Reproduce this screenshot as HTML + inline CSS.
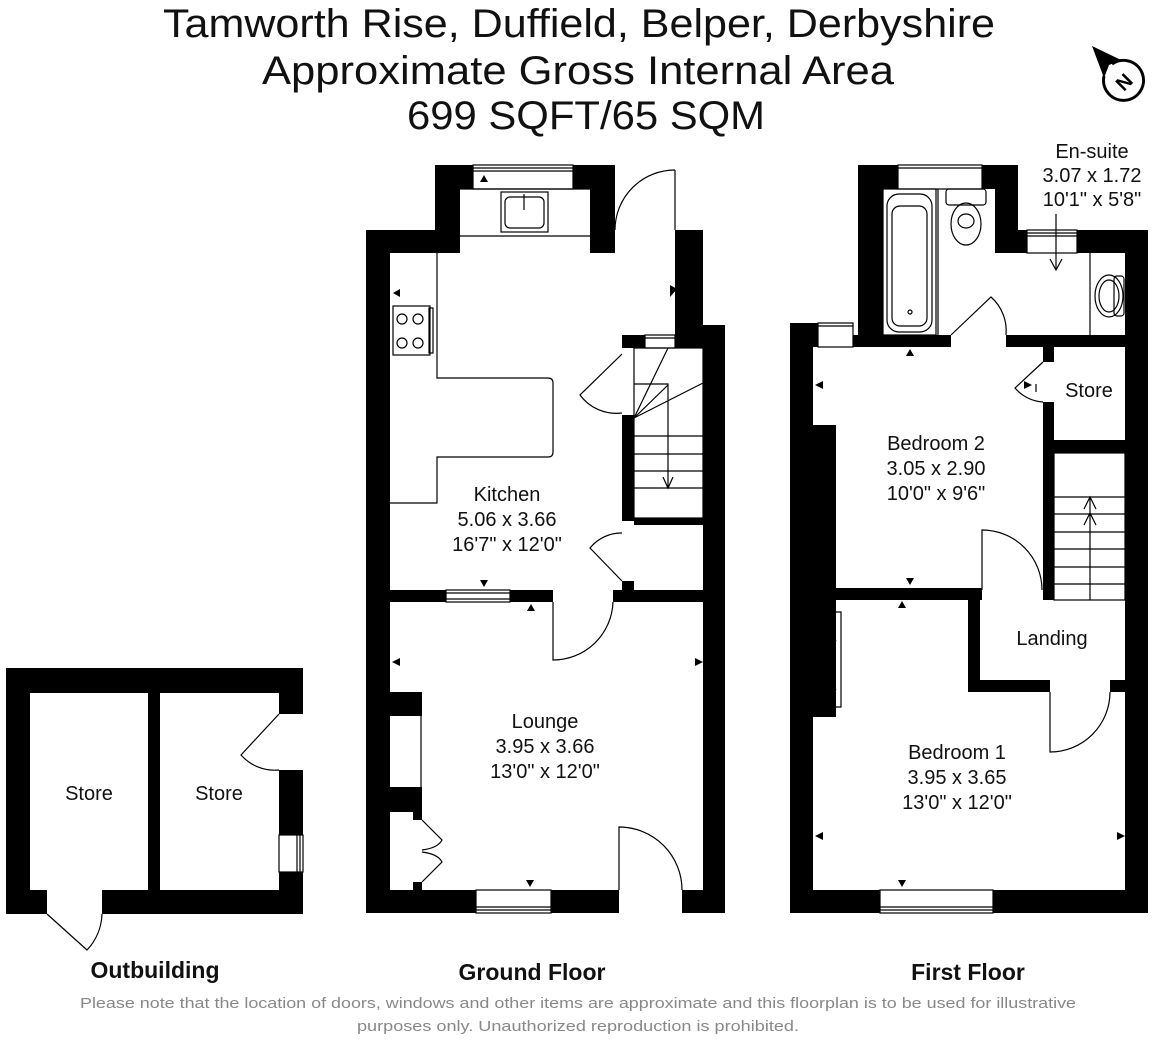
<!DOCTYPE html>
<html><head><meta charset="utf-8"><style>
html,body{margin:0;padding:0;background:#fff;}
svg{display:block;}
text{font-family:"Liberation Sans",sans-serif;}
</style></head><body>
<svg width="1152" height="1040" viewBox="0 0 1152 1040" xmlns="http://www.w3.org/2000/svg">
<rect width="1152" height="1040" fill="#fff"/>
<!-- Title -->
<g fill="#111" font-size="40" text-anchor="middle">
<text x="579" y="37" textLength="832" lengthAdjust="spacingAndGlyphs">Tamworth Rise, Duffield, Belper, Derbyshire</text>
<text x="578" y="84" textLength="632" lengthAdjust="spacingAndGlyphs">Approximate Gross Internal Area</text>
<text x="586" y="129" textLength="358" lengthAdjust="spacingAndGlyphs">699 SQFT/65 SQM</text>
</g>
<!-- compass -->
<g>
<path d="M1112,64 A20,20 0 1,1 1104,76" fill="none" stroke="#000" stroke-width="3"/>
<polygon points="1092,46 1121,60 1109,65 1104,78" fill="#000"/>
<text x="1124" y="89" font-size="20" font-weight="bold" text-anchor="middle" transform="rotate(-45 1124 82)" fill="#000">N</text>
</g>

<g fill="#000">
<!-- ===== Ground floor ===== -->
<rect x="366" y="230" width="24" height="683"/>
<rect x="366" y="230" width="94" height="23"/>
<rect x="435" y="165" width="25" height="88"/>
<rect x="435" y="165" width="38" height="24"/>
<rect x="573" y="165" width="42" height="24"/>
<rect x="590" y="165" width="25" height="88"/>
<rect x="675" y="230" width="28" height="105"/>
<rect x="703" y="325" width="22" height="588"/>
<rect x="622" y="335" width="23" height="13"/>
<rect x="675" y="335" width="28" height="13"/>
<rect x="622" y="415" width="12" height="106"/>
<rect x="634" y="518" width="69" height="7"/>
<rect x="622" y="581" width="12" height="10"/>
<rect x="390" y="590" width="56" height="12"/>
<rect x="510" y="590" width="43" height="12"/>
<rect x="613" y="590" width="90" height="12"/>
<rect x="366" y="890" width="110" height="23"/>
<rect x="551" y="890" width="68" height="23"/>
<rect x="682" y="890" width="43" height="23"/>
<rect x="390" y="692" width="32" height="24"/>
<rect x="390" y="787" width="32" height="25"/>
<rect x="413" y="812" width="9" height="8"/>
<rect x="413" y="882" width="9" height="8"/>

<!-- ===== First floor ===== -->
<rect x="858" y="165" width="40" height="24"/>
<rect x="858" y="165" width="25" height="182"/>
<rect x="982" y="165" width="36" height="24"/>
<rect x="995" y="165" width="23" height="88"/>
<rect x="995" y="230" width="32" height="23"/>
<rect x="1077" y="230" width="71" height="23"/>
<rect x="1125" y="230" width="23" height="683"/>
<rect x="790" y="323" width="23" height="590"/>
<rect x="790" y="323" width="28" height="24"/>
<rect x="853" y="335" width="98" height="12"/>
<rect x="1006" y="335" width="119" height="12"/>
<rect x="1043" y="347" width="11" height="15"/>
<rect x="1043" y="402" width="11" height="198"/>
<rect x="1043" y="440" width="82" height="13"/>
<rect x="813" y="425" width="23" height="175"/>
<rect x="836" y="588" width="146" height="12"/>
<rect x="968" y="590" width="12" height="102"/>
<rect x="968" y="680" width="82" height="12"/>
<rect x="1110" y="680" width="15" height="12"/>
<rect x="813" y="600" width="23" height="117"/>
<rect x="790" y="890" width="90" height="23"/>
<rect x="993" y="890" width="155" height="23"/>

<!-- ===== Outbuilding ===== -->
<rect x="6" y="668" width="297" height="25"/>
<rect x="6" y="668" width="24" height="246"/>
<rect x="279" y="668" width="24" height="46"/>
<rect x="279" y="770" width="24" height="65"/>
<rect x="279" y="872" width="24" height="42"/>
<rect x="6" y="890" width="41" height="24"/>
<rect x="102" y="890" width="201" height="24"/>
<rect x="148" y="693" width="12" height="197"/>
</g>

<!-- thin lines -->
<g fill="none" stroke="#000" stroke-width="1.2">
<rect x="473" y="165" width="100" height="24"/>
<line x1="473" y1="168" x2="573" y2="168"/><line x1="473" y1="171" x2="573" y2="171"/>
<rect x="645" y="335" width="30" height="13"/><line x1="645" y1="338" x2="675" y2="338"/>
<rect x="446" y="590" width="64" height="12"/><line x1="446" y1="593" x2="510" y2="593"/><line x1="446" y1="599" x2="510" y2="599"/>
<rect x="476" y="890" width="75" height="23"/><line x1="476" y1="907" x2="551" y2="907"/><line x1="476" y1="910" x2="551" y2="910"/>
<line x1="460" y1="189" x2="590" y2="189"/>
<line x1="460" y1="236" x2="590" y2="236"/>
<path d="M437,253 V378 H548 Q553,378 553,383 V452 Q553,457 548,457 H437 V503 H390"/>
<rect x="501" y="192" width="47" height="40"/>
<rect x="505" y="197" width="39" height="31" rx="5"/>
<line x1="524" y1="194" x2="524" y2="210"/>
<rect x="393" y="306" width="37" height="49"/>
<rect x="429" y="308" width="4" height="45"/>
<circle cx="402" cy="319" r="5"/><circle cx="418" cy="319" r="5"/>
<circle cx="402" cy="343" r="5"/><circle cx="418" cy="343" r="5"/>
<line x1="675" y1="170" x2="675" y2="230"/>
<path d="M675,170 A60,60 0 0,0 615,230"/>
<rect x="634" y="348" width="69" height="170"/>
<line x1="634" y1="418" x2="668" y2="385"/>
<line x1="634" y1="418" x2="703" y2="383"/>
<line x1="668" y1="348" x2="634" y2="418"/>
<path d="M634,384 H668 V487"/>
<line x1="634" y1="436" x2="703" y2="436"/><line x1="634" y1="454" x2="703" y2="454"/><line x1="634" y1="471" x2="703" y2="471"/><line x1="634" y1="488" x2="703" y2="488"/>
<path d="M663,477 L668,488 L673,477"/>
<path d="M622,354 L580,395 A45,45 0 0,0 622,413"/>
<path d="M622,581 L590,548 A40,40 0 0,1 622,533"/>
<path d="M553,602 V660 A60,60 0 0,0 613,602"/>
<path d="M619,890 V827 A63,63 0 0,1 682,890"/>
<line x1="421" y1="716" x2="421" y2="787"/>
<path d="M422,820 L442,840 Q438,848 422,850 M422,882 L442,862 Q438,854 422,852"/>
<rect x="898" y="165" width="84" height="24"/><line x1="898" y1="168" x2="982" y2="168"/>
<rect x="1027" y="230" width="50" height="23"/><line x1="1027" y1="233" x2="1077" y2="233"/><line x1="1027" y1="236" x2="1077" y2="236"/>
<rect x="818" y="323" width="35" height="24"/><line x1="818" y1="326" x2="853" y2="326"/>
<rect x="880" y="890" width="113" height="23"/><line x1="880" y1="907" x2="993" y2="907"/><line x1="880" y1="910" x2="993" y2="910"/>
<rect x="883" y="189" width="53" height="146"/>
<rect x="887" y="194" width="45" height="138" rx="12"/>
<rect x="892" y="206" width="35" height="120" rx="8"/>
<circle cx="910" cy="312" r="2"/>
<line x1="938" y1="189" x2="938" y2="335"/>
<rect x="946" y="189" width="40" height="16" rx="3"/>
<ellipse cx="966" cy="224" rx="15" ry="21"/><ellipse cx="966" cy="221" rx="8" ry="7"/>
<line x1="1090" y1="253" x2="1090" y2="335"/>
<ellipse cx="1109" cy="296" rx="14" ry="21"/>
<ellipse cx="1109" cy="296" rx="10" ry="16"/>
<rect x="1114" y="276" width="10" height="40" rx="3"/>
<path d="M951,335 L991,297 A45,45 0 0,1 1006,335"/>
<line x1="1056" y1="214" x2="1056" y2="270"/>
<path d="M1050,259 L1056,270 L1062,259"/>
<path d="M1043,362 L1015,388 A40,40 0 0,0 1043,402"/>
<line x1="1036" y1="384" x2="1036" y2="392"/>
<rect x="1054" y="453" width="71" height="147"/>
<line x1="1054" y1="497" x2="1125" y2="497"/><line x1="1054" y1="514" x2="1125" y2="514"/><line x1="1054" y1="532" x2="1125" y2="532"/><line x1="1054" y1="549" x2="1125" y2="549"/><line x1="1054" y1="567" x2="1125" y2="567"/><line x1="1054" y1="584" x2="1125" y2="584"/>
<line x1="1090" y1="497" x2="1090" y2="600"/>
<path d="M1084,509 L1090,497 L1096,509 M1084,525 L1090,513 L1096,525"/>
<path d="M982,590 V530 A60,60 0 0,1 1042,590"/>
<path d="M1050,692 V752 A60,60 0 0,0 1110,692"/>
<path d="M836,612 H841 V707 H836 M836,640 L829,650 V680 L836,690"/>
<rect x="279" y="835" width="24" height="37"/><line x1="297" y1="835" x2="297" y2="872"/><line x1="300" y1="835" x2="300" y2="872"/>
<path d="M47,914 L87,950 A55,55 0 0,0 102,914"/>
<path d="M279,714 L241,755 A45,45 0 0,0 279,770"/>
</g>

<g fill="#000">
<polygon points="480,182 484,175 488,182"/>
<polygon points="393,293 400,289 400,297"/>
<polygon points="677,289 670,285 670,297"/>
<polygon points="480,580 488,580 484,587"/>
<polygon points="527,611 531,604 535,611"/>
<polygon points="392,662 400,658 400,666"/>
<polygon points="703,662 695,658 695,666"/>
<polygon points="526,880 534,880 530,887"/>
<polygon points="906,356 910,349 914,356"/>
<polygon points="815,385 823,381 823,389"/>
<polygon points="1032,385 1024,381 1024,389"/>
<polygon points="906,578 914,578 910,585"/>
<polygon points="898,608 902,601 906,608"/>
<polygon points="815,836 823,832 823,840"/>
<polygon points="1125,836 1117,832 1117,840"/>
<polygon points="898,880 906,880 902,887"/>
</g>

<g fill="#111" font-size="20" text-anchor="middle">
<text x="507" y="501">Kitchen</text>
<text x="507" y="526">5.06 x 3.66</text>
<text x="507" y="551">16'7" x 12'0"</text>
<text x="545" y="728">Lounge</text>
<text x="545" y="753">3.95 x 3.66</text>
<text x="545" y="778">13'0" x 12'0"</text>
<text x="936" y="450">Bedroom 2</text>
<text x="936" y="475">3.05 x 2.90</text>
<text x="936" y="500">10'0" x 9'6"</text>
<text x="1089" y="397">Store</text>
<text x="1052" y="645">Landing</text>
<text x="957" y="759">Bedroom 1</text>
<text x="957" y="784">3.95 x 3.65</text>
<text x="957" y="809">13'0" x 12'0"</text>
<text x="1092" y="158">En-suite</text>
<text x="1092" y="182">3.07 x 1.72</text>
<text x="1092" y="206">10'1" x 5'8"</text>
<text x="89" y="800">Store</text>
<text x="219" y="800">Store</text>
</g>
<g fill="#111" font-size="23" font-weight="bold" text-anchor="middle">
<text x="155" y="978">Outbuilding</text>
<text x="532" y="980">Ground Floor</text>
<text x="968" y="980">First Floor</text>
</g>
<g fill="#888" font-size="15" text-anchor="middle">
<text x="578" y="1008" textLength="996" lengthAdjust="spacingAndGlyphs">Please note that the location of doors, windows and other items are approximate and this floorplan is to be used for illustrative</text>
<text x="578" y="1031" textLength="442" lengthAdjust="spacingAndGlyphs">purposes only. Unauthorized reproduction is prohibited.</text>
</g>
</svg>
</body></html>
